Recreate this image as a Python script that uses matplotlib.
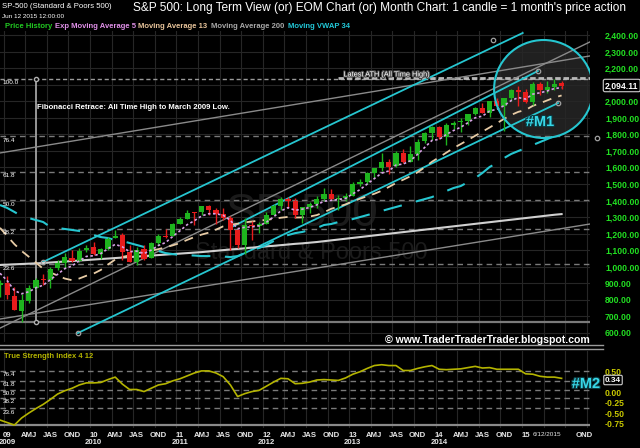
import numpy as np
import matplotlib.pyplot as plt
from matplotlib.patches import Ellipse
import matplotlib.patheffects as pe

plt.rcParams['font.family'] = ['Liberation Sans', 'DejaVu Sans']

# monthly candles, Dec 2008 .. Jun 2015 (index 0 = Dec 2008)
opens = [889, 903, 825, 730, 794, 873, 923, 921, 990, 1020, 1055, 1036, 1099,
         1117, 1074, 1105, 1171, 1189, 1087, 1031, 1108, 1050, 1143, 1186, 1187,
         1258, 1289, 1329, 1329, 1365, 1345, 1321, 1293, 1219, 1131, 1251, 1247,
         1259, 1312, 1366, 1408, 1398, 1310, 1362, 1379, 1407, 1441, 1412, 1416,
         1426, 1498, 1515, 1569, 1598, 1632, 1610, 1689, 1636, 1682, 1759, 1807,
         1846, 1783, 1858, 1874, 1884, 1924, 1962, 1930, 2004, 1971, 2018, 2066,
         2059, 1997, 2105, 2068, 2087, 2109]
highs = [919, 944, 875, 833, 889, 930, 956, 997, 1039, 1080, 1101, 1114, 1130,
         1150, 1112, 1180, 1220, 1205, 1131, 1121, 1129, 1149, 1196, 1227, 1263,
         1303, 1344, 1332, 1366, 1371, 1356, 1356, 1307, 1229, 1293, 1278, 1269,
         1333, 1378, 1419, 1422, 1415, 1363, 1392, 1427, 1475, 1471, 1434, 1448,
         1510, 1531, 1570, 1598, 1687, 1654, 1699, 1710, 1730, 1775, 1814, 1849,
         1851, 1868, 1884, 1897, 1924, 1968, 1991, 2005, 2019, 2018, 2076, 2094,
         2072, 2120, 2118, 2126, 2135, 2122]
lows = [816, 804, 735, 667, 783, 866, 889, 869, 979, 992, 1029, 1029, 1086,
        1072, 1045, 1102, 1171, 1041, 1028, 1011, 1040, 1050, 1132, 1173, 1187,
        1258, 1289, 1249, 1313, 1312, 1258, 1283, 1102, 1114, 1075, 1159, 1202,
        1259, 1312, 1340, 1357, 1292, 1267, 1325, 1355, 1397, 1403, 1343, 1398,
        1426, 1485, 1501, 1536, 1581, 1560, 1605, 1627, 1633, 1646, 1746, 1768,
        1770, 1738, 1834, 1814, 1860, 1916, 1931, 1905, 1964, 1821, 2001, 1973,
        1988, 1981, 2040, 2048, 2068, 2072]
closes = [903, 826, 735, 798, 873, 919, 919, 987, 1021, 1057, 1036, 1096, 1115,
          1074, 1104, 1169, 1187, 1089, 1031, 1102, 1049, 1141, 1183, 1181, 1258,
          1286, 1327, 1326, 1364, 1345, 1321, 1292, 1219, 1131, 1253, 1247, 1258,
          1312, 1366, 1408, 1398, 1310, 1362, 1379, 1407, 1441, 1412, 1416, 1426,
          1498, 1515, 1569, 1598, 1631, 1606, 1686, 1633, 1682, 1757, 1806, 1848,
          1783, 1859, 1872, 1884, 1924, 1960, 1931, 2003, 1972, 2018, 2068, 2059,
          1995, 2105, 2068, 2086, 2107, 2094]

ema5 = [960, 915, 855, 836, 848, 872, 888, 921, 954, 988, 1004, 1035, 1062,
        1066, 1079, 1109, 1135, 1120, 1090, 1094, 1079, 1100, 1128, 1146, 1183,
        1217, 1254, 1278, 1307, 1320, 1320, 1311, 1280, 1230, 1238, 1241, 1247,
        1269, 1301, 1337, 1357, 1341, 1348, 1358, 1374, 1396, 1401, 1406, 1413,
        1441, 1466, 1500, 1533, 1566, 1579, 1615, 1621, 1641, 1680, 1722, 1764,
        1770, 1800, 1824, 1844, 1871, 1901, 1911, 1942, 1952, 1974, 2005, 2023,
        2014, 2044, 2052, 2063, 2078, 2083]
ma13 = [1235, 1185, 1136, 1095, 1060, 1024, 987, 965, 946, 928, 918, 928, 945,
        958, 980, 1013, 1043, 1059, 1068, 1082, 1087, 1096, 1106, 1117, 1129,
        1143, 1162, 1179, 1194, 1206, 1224, 1244, 1253, 1260, 1268, 1273, 1279,
        1283, 1289, 1296, 1301, 1297, 1298, 1303, 1312, 1329, 1350, 1363, 1377,
        1395, 1411, 1426, 1441, 1459, 1482, 1506, 1526, 1547, 1571, 1602, 1635,
        1662, 1690, 1718, 1742, 1767, 1792, 1817, 1842, 1868, 1894, 1918, 1937,
        1948, 1973, 1989, 2006, 2023, 2036]
ma200 = [1010, 1012, 1014, 1016, 1018, 1020, 1022, 1025, 1028, 1031, 1034, 1037,
         1040, 1043, 1046, 1049, 1052, 1055, 1058, 1061, 1064, 1067, 1070, 1073,
         1076, 1079, 1082, 1085, 1088, 1092, 1096, 1100, 1104, 1107, 1111, 1115,
         1119, 1123, 1126, 1130, 1134, 1138, 1141, 1145, 1149, 1154, 1159, 1164,
         1169, 1174, 1179, 1184, 1189, 1194, 1199, 1204, 1209, 1214, 1219, 1224,
         1229, 1234, 1239, 1244, 1249, 1254, 1259, 1264, 1269, 1274, 1279, 1284,
         1289, 1294, 1299, 1304, 1309, 1314, 1318]
vwap34 = [1373, 1355, 1331, 1306, 1294, 1282, 1270, 1240, 1234, 1228, 1222, 1216,
          1203, 1191, 1179, 1173, 1161, 1155, 1143, 1131, 1119, 1107, 1095, 1082,
          1076, 1070, 1070, 1067, 1064, 1064, 1064, 1061, 1058, 1064, 1082, 1101,
          1113, 1131, 1155, 1179, 1191, 1203, 1210, 1222, 1234, 1252, 1258, 1270,
          1276, 1288, 1300, 1312, 1324, 1337, 1349, 1361, 1373, 1385, 1397, 1409,
          1421, 1440, 1458, 1476, 1488, 1512, 1536, 1567, 1603, 1627, 1657, 1682,
          1700, 1718, 1736, 1754, 1772, 1791, 1803]
tsi = [-0.67, -0.73, -0.79, -0.62, -0.50, -0.39, -0.29, -0.17, -0.04, 0.04, 0.10,
       0.18, 0.23, 0.23, 0.24, 0.31, 0.37, 0.20, 0.07, 0.07, 0.02, 0.10, 0.18,
       0.21, 0.28, 0.33, 0.40, 0.47, 0.52, 0.52, 0.47, 0.38, 0.18, -0.10, -0.03,
       0.02, 0.05, 0.15, 0.25, 0.34, 0.33, 0.21, 0.22, 0.25, 0.30, 0.31, 0.30,
       0.29, 0.35, 0.44, 0.50, 0.58, 0.65, 0.67, 0.65, 0.65, 0.53, 0.53, 0.58,
       0.62, 0.65, 0.56, 0.55, 0.56, 0.57, 0.60, 0.63, 0.59, 0.60, 0.56, 0.56,
       0.56, 0.56, 0.45, 0.44, 0.39, 0.37, 0.37, 0.34]

# hand drawn trend lines (month index, price)
cyan_lines = [((5.97, 1028), (72.6, 2414)),
              ((32.2, 1240), (74.7, 2184)),
              ((10.8, 598), (77.5, 1990))]
gray_lines = [((0, 628), (81.94, 2360)),
              ((0, 1688), (81.94, 2275)),
              ((0, 683), (81.94, 1258))]
handles = [(5.97, 1028), (74.7, 2184), (10.8, 598), (77.5, 1990), (68.5, 2372)]

fib_levels = [23.6, 38.2, 50.0, 61.8, 76.4]
tsi_fib_lo, tsi_fib_hi = -0.79, 0.925
fib_x = 5

price_ticks = list(range(600, 2401, 100))
tsi_ticks = [0.5, 0.0, -0.25, -0.5, -0.75]
years = ['09', '10', '11', '12', '13', '14', '15']
quarters = ['AMJ', 'JAS', 'OND']

W, H = 640.0, 448.0
GREEN, RED = '#1eb41e', '#e81c1c'
CYAN = '#26c6d0'


def box(l, t, r, b):
    return [l / W, 1 - b / H, (r - l) / W, (b - t) / H]


fig = plt.figure(figsize=(6.4, 4.48), dpi=100, facecolor='black')
ax = fig.add_axes(box(0, 31, 590, 342))
ax2 = fig.add_axes(box(0, 351, 590, 428))

n = len(closes)
x = np.arange(n)
o = np.array(opens); c = np.array(closes)
xmax = 590 / 7.2

for a in (ax, ax2):
    a.set_facecolor('black')
    a.set_xlim(0, xmax)
    for s in a.spines.values():
        s.set_visible(False)
    a.set_xticks(np.arange(0.5, xmax, 3), minor=True)
    a.grid(True, which='minor', axis='x', color='#262626', lw=0.8)
    a.tick_params(which='both', length=0)

# ---- main price panel
ax.set_ylim(544, 2426)
ax.set_yticks(price_ticks)
ax.set_yticklabels([f'{v:,.2f}' for v in price_ticks])
ax.yaxis.tick_right()
ax.tick_params(axis='y', pad=10.8, labelcolor='#22e022', labelsize=6.2)
for t in ax.get_yticklabels():
    t.set_fontweight('bold')
ax.set_xticks([])
ax.grid(True, axis='y', color='#262626', lw=0.8)

# watermark
ax.text(42.0, 1320, 'SP-500', color='#1b1b1b', fontsize=33, ha='center', va='center', zorder=0)
ax.text(43.3, 1085, 'Standard & Poors 500', color='#1b1b1b', fontsize=17, ha='center', va='center', zorder=0)

# fibonacci retrace
ath = max(highs); low = min(lows)
ax.axhline(low, color='#7a7a7a', lw=1.6, zorder=2)
ax.axhline(ath, color='#9a9a9a', lw=1.0, ls=(0, (3, 2)), zorder=2)
for f in fib_levels:
    lv = low + f / 100 * (ath - low)
    ax.axhline(lv, color='#7a7a7a', lw=1.0, ls=(0, (4, 3)), zorder=2)
    ax.text(0.4, lv - 8, f'{f:.1f}', color='white', fontsize=4.6, va='top', zorder=6)
ax.text(0.4, ath - 8, '100.0', color='white', fontsize=4.6, va='top', zorder=6)
ax.plot([fib_x, fib_x], [low, ath], color='#b0b0b0', lw=1.2, zorder=3)
ax.plot([fib_x, fib_x], [low, ath], 'o', mfc='black', mec='#b0b0b0', ms=3, zorder=7)
ax.text(fib_x + 0.2, 1965, 'Fibonacci Retrace: All Time High to March 2009 Low.',
        color='white', fontsize=5.6, fontweight='bold', va='center', zorder=6)

# latest ATH line
ax.plot([47, xmax], [ath + 6, ath + 6], color='#b8b8b8', lw=2.0, ls=(0, (2, 1)), zorder=3)
ax.text(47.7, ath + 25, 'Latest ATH (All Time High)', color='white', fontsize=5.3,
        va='center', zorder=6,
        path_effects=[pe.withStroke(linewidth=1.5, foreground='#444444')])

# trend lines
for (x0, y0), (x1, y1) in gray_lines:
    ax.plot([x0, x1], [y0, y1], color='#8a8a8a', lw=1.0, zorder=3)
for (x0, y0), (x1, y1) in cyan_lines:
    ax.plot([x0, x1], [y0, y1], color=CYAN, lw=1.3, zorder=3)
hx, hy = zip(*handles)
ax.plot(hx, hy, 'o', mfc='none', mec='#a0a0a0', ms=3.2, mew=0.9, zorder=7)
ax.plot([82.9], [1779], 'o', mfc='none', mec='#a0a0a0', ms=3.2, mew=0.9, clip_on=False)

# highlight circle
ax.add_patch(Ellipse((75.5, 2075), 13.75, 593, facecolor='#ffffff', alpha=0.13,
                     edgecolor='none', zorder=1))
ax.add_patch(Ellipse((75.5, 2075), 13.75, 593, facecolor='none', edgecolor=CYAN,
                     lw=1.5, zorder=8))
ax.text(75.0, 1875, '#M1', color='#38d8e8', fontsize=10.5, fontweight='bold',
        ha='center', va='center', zorder=9,
        path_effects=[pe.withStroke(linewidth=1.6, foreground='#0b3a40')])

# moving averages
ax.plot(x, ma200, color='#d0d0d0', lw=1.5, zorder=3)
ax.plot(x, vwap34, color=CYAN, lw=1.5, ls=(0, (9, 7)), zorder=3)
ax.plot(x, ma13, color='#e8cca6', lw=1.3, ls=(0, (5, 4)), zorder=4)
ax.plot(x, ema5, color='#d9a2e6', lw=1.2, ls=(0, (1.5, 1.5)), zorder=6)

# candles
cols = np.where(c >= o, GREEN, RED)
ax.vlines(x, lows, highs, colors=cols, lw=1.0, zorder=5)
ax.bar(x, np.maximum(np.abs(c - o), 6), bottom=np.minimum(o, c), width=0.7,
       color=cols, lw=0, zorder=5)

# ---- TSI panel
ax2.set_ylim(-0.862, 1.002)
ax2.set_yticks(tsi_ticks)
ax2.set_yticklabels([f'{v:.2f}' for v in tsi_ticks])
ax2.yaxis.tick_right()
ax2.tick_params(axis='y', pad=10.2, labelcolor='#c8c800', labelsize=6.2)
for t in ax2.get_yticklabels():
    t.set_fontweight('bold')
for f in fib_levels:
    lv = tsi_fib_lo + f / 100 * (tsi_fib_hi - tsi_fib_lo)
    ax2.axhline(lv, color='#7a7a7a', lw=1.0, ls=(0, (4, 3)), zorder=2)
    ax2.text(0.4, lv - 0.03, f'{f:.1f}', color='white', fontsize=4.6, va='top')
ax2.axhline(tsi_fib_lo, color='#8a8a8a', lw=1.6, zorder=2)
ax2.plot(x, tsi, color='#b4b400', lw=1.2, zorder=4)
ax2.text(0.6, 0.87, 'True Strength Index 4 12', color='#b4b400', fontsize=5.5,
         fontweight='bold', va='center')

qt_pos = []
qt_lab = []
for k, yy in enumerate(years):
    base = 1 + 12 * k
    qt_pos.append(base)
    qt_lab.append(yy if yy == '15' else f'{yy}\n20{yy}')
    if yy != '15':
        for j, q in enumerate(quarters):
            qt_pos.append(base + 3 * (j + 1))
            qt_lab.append(q)
ax2.set_xticks(qt_pos)
ax2.set_xticklabels(qt_lab, color='#e8e8e8', fontsize=5.6, fontweight='bold',
                    linespacing=1.05)
ax2.tick_params(axis='x', pad=3)
ax2.text(76, -0.96, '6/12/2015', color='#e8e8e8', fontsize=4.6, ha='center', va='top')

# ---- header, legend and labels
fig.text(2 / W, 1 - 6 / H, 'SP-500 (Standard & Poors 500)', color='white', fontsize=5.6, va='center')
fig.text(2 / W, 1 - 16 / H, 'Jun 12 2015 12:00:00', color='white', fontsize=4.6, va='center')
fig.text(133 / W, 1 - 8 / H,
         "S&P 500: Long Term View (or) EOM Chart (or) Month Chart: 1 candle = 1 month's price action",
         color='white', fontsize=8.6, va='center')
legend = [('Price History', '#22cc22', 5), ('Exp Moving Average 5', '#e090e8', 55),
          ('Moving Average 13', '#e8c49a', 138), ('Moving Average 200', '#a8a8a8', 211),
          ('Moving VWAP 34', '#22c8d8', 288)]
for name, col, px in legend:
    fig.text(px / W, 1 - 27 / H, name, color=col, fontsize=5.5, fontweight='bold', va='center')

fig.text(590 / W, 1 - 340 / H, '\u00a9 www.TraderTraderTrader.blogspot.com', color='white',
         fontsize=7.6, fontweight='bold', ha='right', va='center')
fig.add_artist(plt.Line2D([0, 603 / W], [1 - 344.5 / H] * 2, color='#9a9a9a', lw=1.0))
fig.add_artist(plt.Line2D([0, 603 / W], [1 - 349 / H] * 2, color='#9a9a9a', lw=1.0))

fig.text(605 / W, 1 - 85.5 / H, '2,094.11', color='white', fontsize=6.2, fontweight='bold',
         va='center', bbox=dict(boxstyle='round,pad=0.2', fc='black', ec='#d0d0d0', lw=0.8))
fig.text(605 / W, 1 - 380 / H, '0.34', color='white', fontsize=5.9, fontweight='bold',
         va='center', bbox=dict(boxstyle='round,pad=0.15', fc='black', ec='#d0d0d0', lw=0.8))
fig.text(586 / W, 1 - 384 / H, '#M2', color='#38d8e8', fontsize=10.5, fontweight='bold',
         ha='center', va='center',
         path_effects=[pe.withStroke(linewidth=1.6, foreground='#0b3a40')])
fig.text(584 / W, 1 - 435 / H, 'OND', color='#e8e8e8', fontsize=5.6, fontweight='bold',
         ha='center', va='center')

fig.savefig('out.png', dpi=100, facecolor='black')
